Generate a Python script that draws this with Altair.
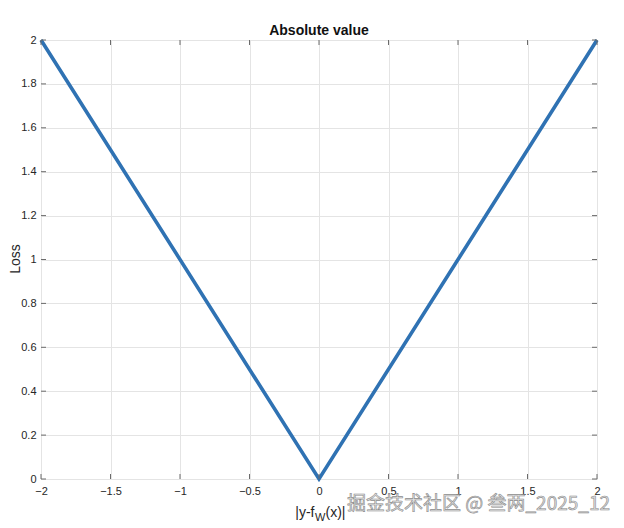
import altair as alt
import pandas as pd

# data
err = [-2, 0, 2]
loss = [2, 0, 2]
x_ticks = [-2, -1.5, -1, -0.5, 0, 0.5, 1, 1.5, 2]
y_ticks = [0, 0.2, 0.4, 0.6, 0.8, 1, 1.2, 1.4, 1.6, 1.8, 2]

W, H = 556, 439
FONT = "Liberation Sans"
AX = "#262626"

df = pd.DataFrame({"e": err, "loss": loss})
xt = pd.DataFrame({"v": x_ticks})
yt = pd.DataFrame({"v": y_ticks})

xs = alt.Scale(domain=[-2, 2], nice=False, zero=False)
ys = alt.Scale(domain=[0, 2], nice=False, zero=False)

line = alt.Chart(df).mark_line(color="#2f72b3", strokeWidth=3.6).encode(
    x=alt.X("e:Q", scale=xs, axis=alt.Axis(values=x_ticks, title=None, grid=True,
        gridColor="#e4e4e4", tickSize=0, domain=False, labelFont=FONT, labelFontSize=11,
        labelColor=AX, labelPadding=6, labelFlush=False, format="~g")),
    y=alt.Y("loss:Q", scale=ys, axis=alt.Axis(values=y_ticks, title=None, grid=True,
        gridColor="#e4e4e4", tickSize=0, domain=False, labelFont=FONT, labelFontSize=11,
        labelColor=AX, labelPadding=5, labelFlush=False, format="~g")),
)

tick_col = "#6b6b6b"
xb = alt.Chart(xt).mark_rule(color=tick_col, strokeWidth=1).encode(
    x=alt.X("v:Q", scale=xs), y=alt.value(H), y2=alt.value(H - 5))
xtop = alt.Chart(xt).mark_rule(color=tick_col, strokeWidth=1).encode(
    x=alt.X("v:Q", scale=xs), y=alt.value(0), y2=alt.value(5))
yl = alt.Chart(yt).mark_rule(color=tick_col, strokeWidth=1).encode(
    y=alt.Y("v:Q", scale=ys), x=alt.value(0), x2=alt.value(5))
yr = alt.Chart(yt).mark_rule(color=tick_col, strokeWidth=1).encode(
    y=alt.Y("v:Q", scale=ys), x=alt.value(W), x2=alt.value(W - 5))

def txt(s, x, y, **kw):
    d = pd.DataFrame({"t": [s]})
    params = dict(font=FONT, fontSize=11, color=AX)
    params.update(kw)
    return alt.Chart(d).mark_text(**params).encode(
        text="t:N", x=alt.value(x), y=alt.value(y))

xt1 = txt("|y-f", 273.5, 477, align="right", baseline="alphabetic", fontSize=14)
xt2 = txt("W", 274, 481, align="left", baseline="alphabetic", fontSize=11)
xt3 = txt("(x)|", 284.5, 477, align="left", baseline="alphabetic", fontSize=14)
ytitle = txt("Loss", -25, 219, align="center", baseline="middle", angle=270, fontSize=14)
title = txt("Absolute value", W / 2, -5, align="center", baseline="alphabetic",
            fontSize=14, fontWeight="bold", color="#111111")
wm = txt("掘金技术社区 @ 叁两_2025_12", 569, 470, align="right", baseline="alphabetic",
         font="Noto Sans CJK SC", fontSize=19, color="#e2e2e2", stroke="#8c8c8c",
         strokeWidth=0.6)

chart = alt.layer(line, xb, xtop, yl, yr, xt1, xt2, xt3, ytitle, title, wm).properties(
    width=W, height=H,
    autosize=alt.AutoSizeParams(type="none"),
    padding={"left": 33, "top": 32, "right": 19, "bottom": 48},
).configure_view(stroke="#6b6b6b", strokeWidth=1).configure(background="white")

chart.save("out.html", embed_options={"renderer": "svg", "actions": False})
